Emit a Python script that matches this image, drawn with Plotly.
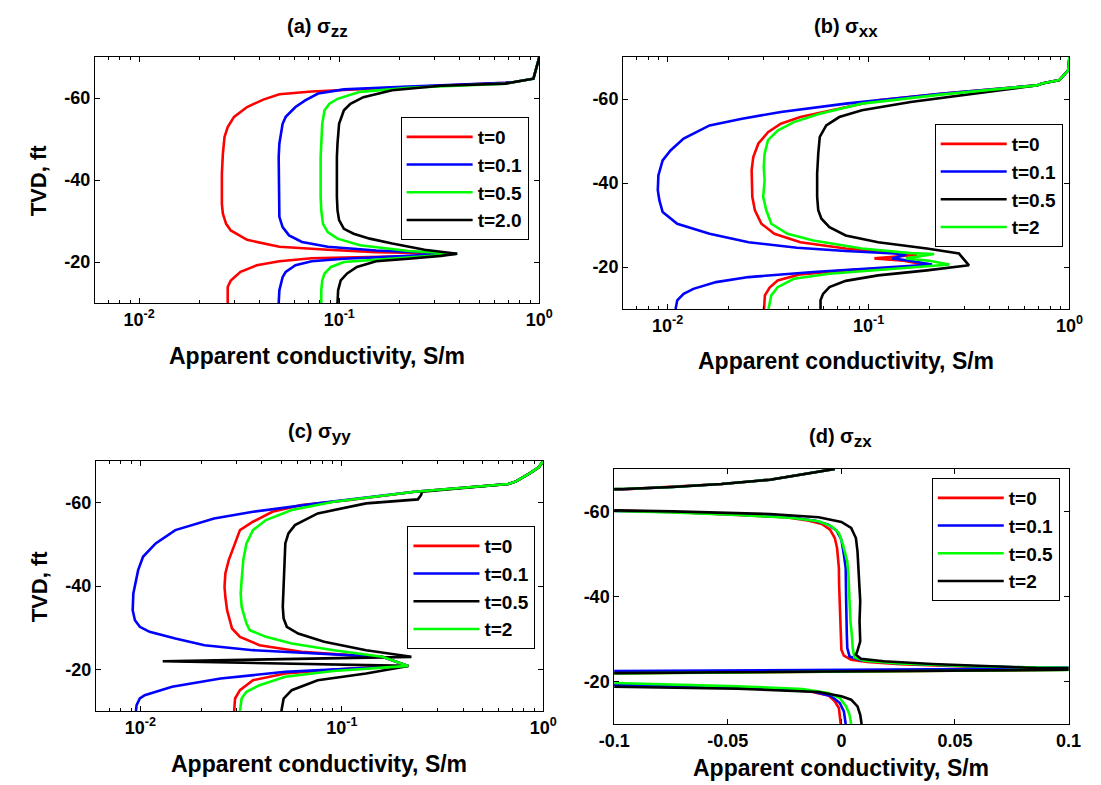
import math
import plotly.graph_objects as go

FONT = "Liberation Sans, Arial, sans-serif"
RED, BLUE, GREEN, BLACK = "#ff0000", "#0000ff", "#00ff00", "#000000"

# ---------------- (a) sigma_zz : apparent conductivity vs TVD ----------------
a_t0_depth = [-70, -67.6, -64.7, -63.9, -63.7, -62.3, -61.6, -60.9, -59.6, -57.8, -55.4, -52.9, -50.5, -46.4,
              -41.5, -34.2, -31.8, -29.3, -27.7, -25.4, -23.7, -23.0, -22.4, -22.0, -21.4, -21.1, -20.9, -20.2,
              -19.2, -17.6, -15.5, -13.9, -10]
a_t0_cond = [1.0, 0.97, 0.934, 0.75, 0.677, 0.153, 0.0728, 0.0502, 0.0417, 0.0346, 0.0298, 0.0277, 0.0267, 0.0262,
             0.0259, 0.0259, 0.0262, 0.0272, 0.0287, 0.0346, 0.0502, 0.0876, 0.153, 0.388, 0.222, 0.1055, 0.0728,
             0.0502, 0.0387, 0.0321, 0.0287, 0.0277, 0.0277]

a_t01_depth = [-70, -67.6, -64.7, -63.9, -63.7, -62.8, -62.1, -61.1, -59.4, -57.8, -55.4, -53.7, -48.9, -45.6,
               -37.5, -31.0, -28.5, -26.5, -24.9, -23.7, -22.8, -22.2, -22.0, -21.5, -20.8, -20.2, -19.2, -17.6,
               -16.3, -13.1, -10]
a_t01_cond = [1.0, 0.97, 0.934, 0.75, 0.677, 0.222, 0.1055, 0.0784, 0.0676, 0.0604, 0.054, 0.0521, 0.0502, 0.0498,
              0.0498, 0.0502, 0.0521, 0.0561, 0.0651, 0.0876, 0.153, 0.322, 0.388, 0.222, 0.1055, 0.0728, 0.0604,
              0.054, 0.0521, 0.0502, 0.0498]

a_t05_depth = [-70, -67.6, -64.7, -63.9, -63.5, -62.5, -61.5, -59.8, -58.6, -57.0, -53.7, -48.9, -45.6, -35.9,
               -32.6, -29.3, -27.3, -25.7, -24.1, -22.7, -22.0, -21.4, -20.6, -20.0, -18.8, -17.2, -15.5, -13.1, -10]
a_t05_cond = [1.0, 0.97, 0.934, 0.75, 0.677, 0.222, 0.127, 0.098, 0.0893, 0.0844, 0.0822, 0.0813, 0.0807, 0.0807,
              0.0813, 0.0829, 0.0876, 0.098, 0.127, 0.222, 0.388, 0.267, 0.153, 0.1055, 0.091, 0.0844, 0.0822,
              0.0813, 0.0813]

a_t2_depth = [-70, -67.6, -64.7, -63.9, -63.5, -63.0, -61.9, -60.2, -58.6, -57.0, -53.7, -48.9, -45.6, -35.9,
              -32.6, -30.2, -28.1, -26.9, -25.7, -24.5, -23.0, -22.0, -21.5, -20.8, -20.2, -18.8, -17.2, -15.5,
              -13.1, -10]
a_t2_cond = [1.0, 0.97, 0.934, 0.75, 0.677, 0.322, 0.184, 0.132, 0.1137, 0.1055, 0.0998, 0.098, 0.0973, 0.0973,
             0.098, 0.0998, 0.1055, 0.118, 0.142, 0.184, 0.267, 0.388, 0.322, 0.222, 0.153, 0.1225, 0.1095, 0.1017,
             0.0987, 0.098]

# ---------------- (b) sigma_xx ----------------
b_t0_depth = [-70, -66.8, -64.5, -63.7, -63.25, -61.3, -59.7, -57.3, -55.7, -54.1, -52.1, -49.4, -46.2, -43.0,
              -39.8, -36.7, -33.5, -30.3, -27.9, -25.9, -24.4, -23.3, -22.9, -22.05, -21.5, -20.6, -20.0, -19.2,
              -18.25, -16.8, -15.1, -13.25, -10]
b_t0_cond = [1.0, 0.985, 0.89, 0.73, 0.689, 0.2346, 0.1116, 0.0639, 0.0458, 0.0366, 0.0316, 0.0283, 0.0267, 0.0262,
             0.0262, 0.0264, 0.0272, 0.0293, 0.034, 0.0458, 0.077, 0.1343, 0.175, 0.107, 0.15, 0.188, 0.162, 0.077,
             0.0458, 0.0353, 0.0322, 0.0305, 0.0302]

b_t01_depth = [-70, -66.8, -64.5, -63.7, -63.25, -61.3, -58.9, -56.9, -55.3, -53.7, -50.6, -47.8, -45.4, -41.8,
               -38.3, -35.9, -33.1, -30.3, -27.9, -25.9, -24.6, -23.8, -23.2, -23.0, -22.05, -21.5, -20.6, -19.8,
               -18.8, -17.6, -16.4, -14.8, -13.6, -12.06, -10]
b_t01_cond = [1.0, 0.985, 0.89, 0.73, 0.689, 0.2346, 0.077, 0.0366, 0.02347, 0.01618, 0.01202, 0.01037, 0.00945,
              0.009, 0.00894, 0.0091, 0.00945, 0.01117, 0.01618, 0.0253, 0.0441, 0.077, 0.1343, 0.154, 0.131, 0.16,
              0.207, 0.1116, 0.0531, 0.0253, 0.01743, 0.01344, 0.01202, 0.01117, 0.01096]

b_t05_depth = [-70, -66.8, -64.5, -63.7, -63.25, -61.3, -59.3, -57.3, -55.7, -53.7, -51.0, -47.0, -42.2, -36.7,
               -33.5, -31.5, -29.5, -27.5, -25.9, -24.4, -23.2, -20.4, -19.2, -18.0, -16.7, -15.2, -13.6, -12.06, -10]
b_t05_cond = [1.0, 0.985, 0.89, 0.73, 0.689, 0.34, 0.162, 0.0927, 0.0715, 0.0616, 0.0572, 0.0562, 0.0555, 0.0555,
              0.0562, 0.0583, 0.0639, 0.077, 0.1116, 0.195, 0.282, 0.316, 0.195, 0.1116, 0.077, 0.0639, 0.0594,
              0.0577, 0.0577]

b_t2_depth = [-70, -66.8, -64.5, -63.7, -63.25, -61.1, -58.9, -56.5, -54.5, -52.5, -50.2, -47.0, -43.8, -40.6,
              -36.7, -33.5, -30.3, -27.9, -26.3, -24.4, -23.3, -23.1, -22.05, -21.5, -20.6, -19.6, -18.4, -17.2,
              -15.2, -13.25, -10]
b_t2_cond = [1.0, 0.985, 0.89, 0.73, 0.689, 0.2346, 0.0927, 0.0572, 0.0425, 0.0353, 0.0316, 0.0304, 0.0301, 0.0304,
             0.0299, 0.031, 0.0328, 0.0395, 0.0531, 0.0927, 0.162, 0.212, 0.154, 0.2, 0.253, 0.1343, 0.0639, 0.0425,
             0.0353, 0.0328, 0.0318]

# ---------------- (c) sigma_yy ----------------
c_t0_depth = [-70, -68.5, -67.1, -65.1, -64.47, -62.63, -60.63, -59.43, -57.82, -55.42, -53.42, -49.41, -46.21,
              -43.0, -39.8, -37.4, -34.2, -29.8, -27.8, -25.8, -24.2, -23.4, -23.0, -20.82, -20.2, -19.0, -17.4,
              -15.0, -13.0, -10]
c_t0_cond = [1.0, 0.95, 0.86, 0.733, 0.67, 0.2298, 0.1097, 0.063, 0.0452, 0.0362, 0.0312, 0.029, 0.02744, 0.0264,
             0.02615, 0.0264, 0.02693, 0.0285, 0.0312, 0.039, 0.063, 0.1097, 0.1588, 0.2135, 0.1097, 0.0524, 0.0362,
             0.0312, 0.0295, 0.0292]

c_t01_depth = [-70, -68.5, -67.1, -65.1, -64.47, -62.63, -59.83, -57.82, -56.22, -53.42, -50.22, -47.01, -43.81,
               -42.2, -38.2, -34.2, -31.8, -30.2, -29.0, -27.4, -25.8, -24.6, -23.8, -23.0, -20.82, -20.2, -19.4,
               -17.8, -15.8, -13.8, -13.0, -11.4, -10]
c_t01_cond = [1.0, 0.95, 0.86, 0.733, 0.67, 0.2298, 0.0759, 0.0362, 0.0232, 0.0149, 0.0119, 0.0103, 0.00974,
              0.00957, 0.00922, 0.00915, 0.00939, 0.00993, 0.0111, 0.0149, 0.0208, 0.0362, 0.0759, 0.1588, 0.2135,
              0.1097, 0.0524, 0.025, 0.01436, 0.0105, 0.00993, 0.00957, 0.0095]

c_t05_depth = [-70, -68.5, -67.1, -65.1, -64.47, -62.6, -61.83, -60.79, -59.83, -57.42, -54.62, -52.62, -50.22,
               -46.21, -42.2, -38.2, -35.0, -32.2, -30.2, -28.6, -26.6, -24.6, -23.0, -21.94, -20.82, -20.4, -19.0,
               -17.4, -15.0, -13.0, -10]
c_t05_cond = [1.0, 0.95, 0.86, 0.733, 0.67, 0.25, 0.2475, 0.2385, 0.132, 0.0759, 0.0585, 0.0543, 0.0524, 0.052,
              0.0514, 0.0509, 0.0509, 0.0514, 0.0533, 0.0607, 0.0817, 0.132, 0.2215, 0.0129, 0.2135, 0.191, 0.132,
              0.0759, 0.0564, 0.0514, 0.0501]

c_t2_depth = [-70, -68.5, -67.1, -65.1, -64.47, -62.63, -60.23, -58.23, -55.82, -53.42, -50.22, -46.21, -41.4,
              -38.2, -35.0, -31.0, -29.4, -27.8, -26.2, -24.6, -23.0, -20.82, -19.6, -18.2, -16.2, -14.6, -13.0, -10]
c_t2_cond = [1.0, 0.95, 0.86, 0.733, 0.67, 0.2298, 0.0912, 0.0564, 0.042, 0.0362, 0.0336, 0.0324, 0.0318, 0.03146,
             0.0318, 0.0336, 0.0349, 0.042, 0.0564, 0.0912, 0.1588, 0.2135, 0.0912, 0.0524, 0.039, 0.0336, 0.0318,
             0.0312]

# ---------------- (d) sigma_zx (linear axis, values pass through +/- infinity) ----------------
d_t0_depth = [-70, -68.67, -67.49, -66.47, -65.76, -65.2, -65.0, -64.0, -61.0, -60.4, -60.2, -59.88, -59.25,
              -58.63, -57.84, -57.06, -55.73, -53.76, -51.41, -46.71, -42.8, -38.86, -34.94, -31.0, -27.49, -26.08,
              -25.14, -24.6, -24.1, -23.57, -23.2, -22.95, -21.75, -21.0, -19.8, -19.25, -18.6, -17.7, -16.74,
              -15.33, -13.76, -10]
d_t0_cond = [-0.0029, -0.0171, -0.0314, -0.0528, -0.0743, -0.0965, -0.15, -0.4, -0.4, -0.15, -0.0997, -0.0743,
             -0.0457, -0.0243, -0.0143, -0.0086, -0.005, -0.0029, -0.0019, -0.0011, -0.001, -0.0007, -0.0003,
             -0.0003, 0.0, 0.0011, 0.0043, 0.0114, 0.0257, 0.0543, 0.0857, 0.15, -0.15, -0.4, -0.2, -0.0997,
             -0.0457, -0.0143, -0.0057, -0.0029, -0.0011, -0.0003]

d_t01_depth = [-70, -68.67, -67.49, -66.47, -65.76, -65.25, -65.0, -64.0, -61.0, -60.4, -60.1, -59.88, -59.25,
               -58.63, -57.84, -56.9, -55.5, -53.4, -49.84, -46.71, -38.86, -34.94, -31.0, -27.88, -25.9, -24.98,
               -24.27, -23.65, -23.27, -23.2, -22.3, -21.0, -19.8, -19.25, -18.6, -17.7, -16.51, -14.94, -12.97, -10]
d_t01_cond = [-0.0029, -0.0171, -0.0314, -0.0528, -0.0743, -0.0962, -0.15, -0.4, -0.4, -0.15, -0.0997, -0.0743,
              -0.0457, -0.0229, -0.0114, -0.0057, -0.0021, 0.0, 0.0011, 0.0019, 0.0021, 0.0024, 0.0024, 0.0026,
              0.0036, 0.0086, 0.0257, 0.0543, 0.0857, 0.15, -0.15, -0.4, -0.2, -0.0997, -0.0457, -0.0129, -0.0043,
              -0.0007, 0.0011, 0.0019]

d_t05_depth = [-70, -68.67, -67.49, -66.47, -65.76, -65.29, -65.0, -64.0, -61.0, -60.4, -60.1, -59.8, -59.18,
               -58.47, -57.7, -56.5, -54.94, -52.2, -48.27, -45.14, -38.86, -34.16, -31.0, -27.88, -25.7, -24.9,
               -24.27, -23.65, -23.27, -22.95, -21.7, -21.0, -20.2, -19.65, -18.86, -18.24, -17.3, -16.1, -14.14,
               -12.18, -10]
d_t05_cond = [-0.0029, -0.0171, -0.0314, -0.0528, -0.0743, -0.0957, -0.15, -0.4, -0.4, -0.15, -0.0997, -0.0743,
              -0.0457, -0.0214, -0.01, -0.0043, -0.0011, 0.0007, 0.0026, 0.0031, 0.0036, 0.004, 0.0046, 0.005,
              0.0057, 0.01, 0.0257, 0.0543, 0.0857, 0.15, -0.15, -0.4, -0.2, -0.0997, -0.0457, -0.0171, -0.0057,
              -0.0007, 0.0021, 0.0036, 0.0043]

d_t2_depth = [-70, -68.67, -67.49, -66.47, -65.76, -65.29, -65.0, -64.0, -61.0, -60.5, -60.27, -60.04, -59.41,
              -58.63, -57.53, -56.12, -53.76, -50.63, -43.57, -38.86, -34.16, -29.45, -27.26, -26.31, -25.37,
              -24.75, -24.12, -23.49, -23.18, -22.95, -21.7, -20.8, -19.6, -18.86, -18.3, -17.53, -16.51, -15.73,
              -14.14, -12.18, -10]
d_t2_cond = [-0.0029, -0.0171, -0.0314, -0.0528, -0.0743, -0.0957, -0.15, -0.4, -0.4, -0.15, -0.0997, -0.0743,
             -0.0314, -0.01, 0.0, 0.0043, 0.0064, 0.0071, 0.0079, 0.0083, 0.008, 0.0083, 0.0071, 0.0064, 0.0086,
             0.0186, 0.04, 0.0686, 0.0857, 0.15, -0.15, -0.4, -0.2, -0.0997, -0.0457, -0.01, 0.0, 0.0043, 0.0071,
             0.0083, 0.0089]

# ---------------- tick labels ----------------
log_tick_vals = [0.01, 0.1, 1]
log_tick_text = ["10<sup>-2</sup>", "10<sup>-1</sup>", "10<sup>0</sup>"]
log_minor_vals = [0.006, 0.007, 0.008, 0.009, 0.02, 0.03, 0.04, 0.05, 0.06, 0.07, 0.08, 0.09,
                  0.2, 0.3, 0.4, 0.5, 0.6, 0.7, 0.8, 0.9]
lin_tick_vals = [-0.1, -0.05, 0, 0.05, 0.1]
lin_tick_text = ["-0.1", "-0.05", "0", "0.05", "0.1"]
depth_tick_vals = [-60, -40, -20]
depth_tick_text = ["-60", "-40", "-20"]


def bold(labels):
    return ["<b>%s</b>" % s for s in labels]


panels = [
    # axis suffix, legend id, traces (label, colour, depth, conductivity)
    ("", "legend", [("t=0", RED, a_t0_depth, a_t0_cond), ("t=0.1", BLUE, a_t01_depth, a_t01_cond),
                    ("t=0.5", GREEN, a_t05_depth, a_t05_cond), ("t=2.0", BLACK, a_t2_depth, a_t2_cond)]),
    ("2", "legend2", [("t=0", RED, b_t0_depth, b_t0_cond), ("t=0.1", BLUE, b_t01_depth, b_t01_cond),
                      ("t=0.5", BLACK, b_t05_depth, b_t05_cond), ("t=2", GREEN, b_t2_depth, b_t2_cond)]),
    ("3", "legend3", [("t=0", RED, c_t0_depth, c_t0_cond), ("t=0.1", BLUE, c_t01_depth, c_t01_cond),
                      ("t=0.5", BLACK, c_t05_depth, c_t05_cond), ("t=2", GREEN, c_t2_depth, c_t2_cond)]),
    ("4", "legend4", [("t=0", RED, d_t0_depth, d_t0_cond), ("t=0.1", BLUE, d_t01_depth, d_t01_cond),
                      ("t=0.5", GREEN, d_t05_depth, d_t05_cond), ("t=2", BLACK, d_t2_depth, d_t2_cond)]),
]

W, H = 1101, 785
fig = go.Figure()
for suffix, legend_id, series in panels:
    for name, colour, depth, cond in series:
        fig.add_trace(go.Scatter(
            x=cond, y=depth, mode="lines", name="<b>%s</b>" % name,
            line=dict(color=colour, width=2.6),
            xaxis="x" + suffix, yaxis="y" + suffix, legend=legend_id,
        ))


def px_x(v):
    return v / W


def px_y(v):
    return 1 - v / H


tick_font = dict(family=FONT, size=18, color="black", weight="bold")
common = dict(showline=True, linecolor="black", linewidth=1, mirror="ticks", ticks="inside",
              ticklen=5, tickwidth=1, tickcolor="black", showgrid=False, zeroline=False,
              tickfont=tick_font, fixedrange=True)

# plot boxes in pixels: (left, right, top, bottom)
boxes = {"": (81, 538, 57, 303), "2": (624, 1083, 57, 309),
         "3": (82, 542, 461, 711), "4": (615, 1082, 469, 724)}

layout = dict(width=W, height=H, margin=dict(l=0, r=0, t=0, b=0),
              font=dict(family=FONT, size=18, color="black", weight="bold"),
              paper_bgcolor="white", plot_bgcolor="white", showlegend=True)

for suffix, (l, r, t, b) in boxes.items():
    xa = dict(common, domain=[px_x(l), px_x(r)], anchor="y" + suffix)
    if suffix == "4":
        xa.update(type="linear", range=[-0.1, 0.1], tickmode="array", tickvals=lin_tick_vals,
                  ticktext=bold(lin_tick_text))
    else:
        xa.update(type="log", range=[math.log10(0.006), 0], tickmode="array", tickvals=log_tick_vals,
                  ticktext=bold(log_tick_text),
                  minor=dict(ticks="inside", ticklen=3, tickcolor="black", tickvals=log_minor_vals))
    ya = dict(common, domain=[px_y(b), px_y(t)], anchor="x" + suffix, range=[-10, -70],
              tickmode="array", tickvals=depth_tick_vals, ticktext=bold(depth_tick_text))
    layout["xaxis" + suffix] = xa
    layout["yaxis" + suffix] = ya

legend_font = dict(family=FONT, size=19, color="black")
legend_pos = {"legend": (527, 117), "legend2": (1076, 124), "legend3": (534, 526), "legend4": (1073, 478)}
for key, (rx, ty) in legend_pos.items():
    layout[key] = dict(x=px_x(rx), y=px_y(ty), xanchor="right", yanchor="top", bgcolor="white",
                       bordercolor="black", borderwidth=1, font=legend_font, itemwidth=66,
                       tracegroupgap=0)

ann = []
titles = [("(a) σ", "zz", 309.5, 28), ("(b) σ", "xx", 853.5, 28),
          ("(c) σ", "yy", 312, 433), ("(d) σ", "zx", 848, 438)]
for head, sub, cx, cy in titles:
    text = "<b>%s<sub><span style='font-size:17px'>%s</span></sub></b>" % (head, sub)
    ann.append(dict(text=text, x=px_x(cx), y=px_y(cy), xref="paper", yref="paper", showarrow=False,
                    xanchor="center", yanchor="middle", font=dict(family=FONT, size=20, color="black")))

xtitle = "<b>Apparent conductivity, S/m</b>"
for cx, cy in [(309.5, 356), (853.5, 361), (312, 764), (848, 768)]:
    ann.append(dict(text=xtitle, x=px_x(cx), y=px_y(cy), xref="paper", yref="paper", showarrow=False,
                    xanchor="center", yanchor="middle", font=dict(family=FONT, size=23, color="black")))

for cy in [180, 586]:
    ann.append(dict(text="<b>TVD, ft</b>", x=px_x(24), y=px_y(cy), xref="paper", yref="paper",
                    showarrow=False, textangle=-90, xanchor="center", yanchor="middle",
                    font=dict(family=FONT, size=22, color="black")))

layout["annotations"] = ann
fig.update_layout(**layout)
fig.write_html("out.html")
